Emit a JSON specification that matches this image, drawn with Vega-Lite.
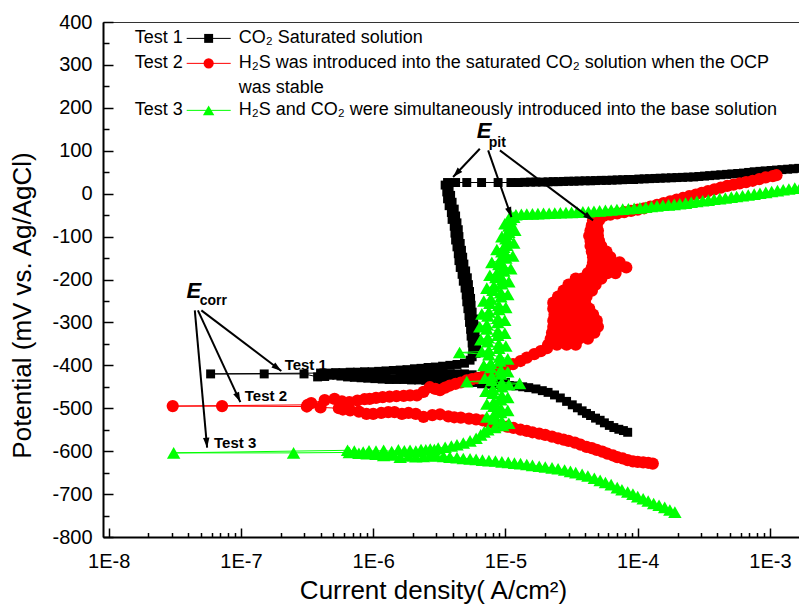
{
"$schema":"https://vega.github.io/schema/vega-lite/v6.json",
"width":697,"height":515,
"autosize":{"type":"none"},
"padding":{"left":103,"top":22,"right":0,"bottom":68},
"background":"#ffffff",
"config":{"view":{"stroke":"#333333","strokeWidth":1},"font":"Liberation Sans","axis":{"grid":false}},
"datasets":{
"t1":[
{"x":8.4e-5,"y":-556},{"x":7.8e-5,"y":-552},{"x":7.2e-5,"y":-549},{"x":6.6e-5,"y":-545},{"x":6.1e-5,"y":-540},{"x":5.6e-5,"y":-534},{"x":5.2e-5,"y":-528},{"x":4.8e-5,"y":-523},{"x":4.4e-5,"y":-517},{"x":4.1e-5,"y":-512},{"x":3.8e-5,"y":-506},{"x":3.5e-5,"y":-499},{"x":3.2e-5,"y":-492},{"x":2.9e-5,"y":-484},{"x":2.6e-5,"y":-476},{"x":2.35e-5,"y":-469},{"x":2.1e-5,"y":-463},{"x":1.9e-5,"y":-459},{"x":1.7e-5,"y":-455},{"x":1.5e-5,"y":-452},{"x":1.35e-5,"y":-450},{"x":1.2e-5,"y":-448},{"x":1.07e-5,"y":-447},
{"x":1.0e-5,"y":-440},{"x":9.5e-6,"y":-446},{"x":9.0e-6,"y":-438},{"x":8.4e-6,"y":-445},{"x":7.9e-6,"y":-436},{"x":7.5e-6,"y":-444},{"x":7.0e-6,"y":-430},{"x":6.6e-6,"y":-443},{"x":6.2e-6,"y":-426},{"x":5.9e-6,"y":-440},{"x":5.6e-6,"y":-422},{"x":5.2e-6,"y":-439},{"x":4.9e-6,"y":-420},{"x":4.6e-6,"y":-438},{"x":4.35e-6,"y":-420},{"x":4.1e-6,"y":-437},{"x":3.85e-6,"y":-420},{"x":3.6e-6,"y":-436},{"x":3.4e-6,"y":-420},{"x":3.2e-6,"y":-436},{"x":3.0e-6,"y":-421},{"x":2.85e-6,"y":-435},{"x":2.65e-6,"y":-421},{"x":2.5e-6,"y":-435},{"x":2.35e-6,"y":-422},{"x":2.2e-6,"y":-434},{"x":2.05e-6,"y":-423},{"x":1.95e-6,"y":-434},{"x":1.8e-6,"y":-424},{"x":1.7e-6,"y":-433},{"x":1.6e-6,"y":-425},{"x":1.5e-6,"y":-433},
{"x":1.32e-6,"y":-433},{"x":1.17e-6,"y":-432},{"x":1.03e-6,"y":-431},{"x":9.1e-7,"y":-430},{"x":8.1e-7,"y":-429},{"x":7.2e-7,"y":-428},{"x":6.4e-7,"y":-427},{"x":5.7e-7,"y":-425},{"x":5.3e-7,"y":-423},{"x":4.7e-7,"y":-423},{"x":4.3e-7,"y":-426},{"x":3.8e-7,"y":-427},{"x":3.0e-7,"y":-420},{"x":1.5e-7,"y":-420},{"x":5.9e-8,"y":-420},
{"x":4.0e-7,"y":-418},{"x":4.6e-7,"y":-418},{"x":5.2e-7,"y":-417},{"x":5.9e-7,"y":-417},{"x":6.7e-7,"y":-416},{"x":7.6e-7,"y":-416},{"x":8.6e-7,"y":-415},{"x":9.8e-7,"y":-415},{"x":1.1e-6,"y":-414},{"x":1.25e-6,"y":-413},{"x":1.42e-6,"y":-412},{"x":1.6e-6,"y":-411},{"x":1.8e-6,"y":-410},{"x":2.05e-6,"y":-408},{"x":2.3e-6,"y":-407},{"x":2.6e-6,"y":-405},{"x":2.95e-6,"y":-404},{"x":3.35e-6,"y":-402},{"x":3.8e-6,"y":-400},{"x":4.3e-6,"y":-398},{"x":4.9e-6,"y":-395},{"x":5.4e-6,"y":-388},
{"x":5.6e-6,"y":-380},{"x":6.0e-6,"y":-372},{"x":5.65e-6,"y":-364},{"x":6.05e-6,"y":-356},{"x":5.6e-6,"y":-348},{"x":6.0e-6,"y":-340},{"x":5.5e-6,"y":-332},{"x":5.9e-6,"y":-324},{"x":5.45e-6,"y":-316},{"x":5.8e-6,"y":-308},{"x":5.35e-6,"y":-300},{"x":5.75e-6,"y":-292},{"x":5.3e-6,"y":-284},{"x":5.6e-6,"y":-276},{"x":5.2e-6,"y":-268},{"x":5.5e-6,"y":-260},{"x":5.1e-6,"y":-252},{"x":5.45e-6,"y":-244},{"x":5.05e-6,"y":-236},{"x":5.35e-6,"y":-228},{"x":4.95e-6,"y":-220},{"x":5.25e-6,"y":-212},{"x":4.8e-6,"y":-204},{"x":5.15e-6,"y":-196},{"x":4.7e-6,"y":-188},{"x":5.0e-6,"y":-180},{"x":4.55e-6,"y":-172},{"x":4.85e-6,"y":-164},{"x":4.45e-6,"y":-156},{"x":4.75e-6,"y":-148},{"x":4.4e-6,"y":-140},{"x":4.65e-6,"y":-132},{"x":4.3e-6,"y":-124},{"x":4.55e-6,"y":-116},{"x":4.2e-6,"y":-108},{"x":4.45e-6,"y":-100},{"x":4.15e-6,"y":-92},{"x":4.4e-6,"y":-84},{"x":4.1e-6,"y":-76},{"x":4.3e-6,"y":-68},{"x":3.95e-6,"y":-60},{"x":4.2e-6,"y":-52},{"x":3.9e-6,"y":-44},{"x":4.1e-6,"y":-36},{"x":3.75e-6,"y":-28},{"x":3.95e-6,"y":-20},{"x":3.65e-6,"y":-12},{"x":3.85e-6,"y":-4},{"x":3.6e-6,"y":4},{"x":3.75e-6,"y":12},{"x":3.5e-6,"y":20},{"x":3.65e-6,"y":26},
{"x":4.2e-6,"y":26},{"x":5.1e-6,"y":26},{"x":6.6e-6,"y":26},{"x":8.8e-6,"y":26},{"x":1.1e-5,"y":26},{"x":1.25e-5,"y":26},{"x":1.4e-5,"y":26.5},{"x":1.55e-5,"y":27},{"x":1.7e-5,"y":27},{"x":1.9e-5,"y":27},{"x":2.1e-5,"y":27.5},{"x":2.3e-5,"y":28},{"x":2.5e-5,"y":28},{"x":2.75e-5,"y":28.5},{"x":3.0e-5,"y":29},{"x":3.3e-5,"y":29},{"x":3.6e-5,"y":29.5},{"x":4.0e-5,"y":30},{"x":4.4e-5,"y":30},{"x":4.8e-5,"y":30.5},{"x":5.3e-5,"y":31},{"x":5.8e-5,"y":31},{"x":6.4e-5,"y":31.5},{"x":7e-5,"y":32},{"x":7.7e-5,"y":32.5},{"x":8.5e-5,"y":33},{"x":9.3e-5,"y":33},{"x":1.02e-4,"y":34},{"x":1.12e-4,"y":34.5},{"x":1.23e-4,"y":35},{"x":1.35e-4,"y":35.5},{"x":1.48e-4,"y":36},{"x":1.63e-4,"y":36.5},{"x":1.8e-4,"y":37},{"x":1.98e-4,"y":37.5},{"x":2.18e-4,"y":38},{"x":2.4e-4,"y":38.5},{"x":2.65e-4,"y":39},{"x":2.9e-4,"y":40},{"x":3.2e-4,"y":41},{"x":3.5e-4,"y":42},{"x":3.85e-4,"y":43},{"x":4.25e-4,"y":44},{"x":4.7e-4,"y":45},{"x":5.15e-4,"y":46},{"x":5.7e-4,"y":47},{"x":6.3e-4,"y":48},{"x":6.9e-4,"y":49.5},{"x":7.6e-4,"y":51},{"x":8.4e-4,"y":52},{"x":9.2e-4,"y":53},{"x":1.02e-3,"y":54},{"x":1.12e-3,"y":55},{"x":1.23e-3,"y":56},{"x":1.36e-3,"y":57},{"x":1.5e-3,"y":58},{"x":1.65e-3,"y":59},{"x":1.8e-3,"y":60}
],
"t2":[
{"x":1.3e-4,"y":-629},{"x":1.2e-4,"y":-627},{"x":1.1e-4,"y":-626},{"x":1.0e-4,"y":-625},{"x":9.2e-5,"y":-624},{"x":8.4e-5,"y":-621},{"x":7.7e-5,"y":-617},{"x":7.0e-5,"y":-614},{"x":6.5e-5,"y":-610},{"x":5.9e-5,"y":-606},{"x":5.4e-5,"y":-601},{"x":4.9e-5,"y":-597},{"x":4.5e-5,"y":-593},{"x":4.1e-5,"y":-590},{"x":3.7e-5,"y":-585},{"x":3.35e-5,"y":-580},{"x":3.0e-5,"y":-576},{"x":2.75e-5,"y":-573},{"x":2.5e-5,"y":-570},{"x":2.25e-5,"y":-566},{"x":2.0e-5,"y":-562},{"x":1.8e-5,"y":-559},{"x":1.6e-5,"y":-556},{"x":1.45e-5,"y":-553},{"x":1.3e-5,"y":-550},{"x":1.15e-5,"y":-546},{"x":1.03e-5,"y":-543},{"x":9.1e-6,"y":-540},{"x":8.2e-6,"y":-536},{"x":7.4e-6,"y":-532},{"x":6.7e-6,"y":-528},{"x":6.0e-6,"y":-526},{"x":5.3e-6,"y":-524},{"x":4.6e-6,"y":-522},{"x":4.1e-6,"y":-521},{"x":3.7e-6,"y":-519},{"x":3.2e-6,"y":-514},{"x":2.8e-6,"y":-516},{"x":2.4e-6,"y":-520},{"x":2.1e-6,"y":-513},{"x":1.85e-6,"y":-511},{"x":1.65e-6,"y":-513},{"x":1.45e-6,"y":-509},{"x":1.3e-6,"y":-509},{"x":1.15e-6,"y":-511},{"x":1.0e-6,"y":-513},{"x":8.9e-7,"y":-513},{"x":7.8e-7,"y":-508},{"x":6.7e-7,"y":-505},{"x":5.9e-7,"y":-503},{"x":5.5e-7,"y":-500},{"x":4.0e-7,"y":-498},{"x":3.15e-7,"y":-496},{"x":7.2e-8,"y":-495},{"x":3.05e-8,"y":-495},
{"x":3.2e-7,"y":-492},{"x":3.4e-7,"y":-488},{"x":4.3e-7,"y":-481},{"x":5.1e-7,"y":-478},{"x":5.8e-7,"y":-484},{"x":6.6e-7,"y":-486},{"x":7.6e-7,"y":-482},{"x":8.6e-7,"y":-479},{"x":9.4e-7,"y":-478},{"x":1.05e-6,"y":-476},{"x":1.18e-6,"y":-474},{"x":1.33e-6,"y":-473},{"x":1.5e-6,"y":-472},{"x":1.7e-6,"y":-471},{"x":1.9e-6,"y":-470},{"x":2.14e-6,"y":-470},{"x":2.4e-6,"y":-462},{"x":2.68e-6,"y":-451},{"x":2.95e-6,"y":-455},{"x":3.2e-6,"y":-458},{"x":3.5e-6,"y":-452},{"x":3.8e-6,"y":-447},{"x":4.2e-6,"y":-443},{"x":4.6e-6,"y":-440},{"x":5.1e-6,"y":-435},{"x":5.6e-6,"y":-432},{"x":6.1e-6,"y":-430},{"x":6.8e-6,"y":-426},{"x":7.6e-6,"y":-421},{"x":8.4e-6,"y":-416},{"x":9.2e-6,"y":-412},{"x":1.0e-5,"y":-405},{"x":1.14e-5,"y":-397},{"x":1.3e-5,"y":-390},{"x":1.45e-5,"y":-382},{"x":1.65e-5,"y":-374},{"x":1.85e-5,"y":-367},{"x":2.06e-5,"y":-360},
{"x":2.1e-5,"y":-352},{"x":2.45e-5,"y":-352},{"x":2.9e-5,"y":-352},{"x":3.4e-5,"y":-352},
{"x":4.2e-5,"y":-338},{"x":3.6e-5,"y":-338},{"x":3.05e-5,"y":-338},{"x":2.6e-5,"y":-338},{"x":2.2e-5,"y":-338},
{"x":2.25e-5,"y":-324},{"x":2.65e-5,"y":-324},{"x":3.1e-5,"y":-324},{"x":3.65e-5,"y":-324},{"x":4.3e-5,"y":-324},{"x":4.7e-5,"y":-324},
{"x":5.0e-5,"y":-310},{"x":4.3e-5,"y":-310},{"x":3.65e-5,"y":-310},{"x":3.1e-5,"y":-310},{"x":2.65e-5,"y":-310},{"x":2.3e-5,"y":-310},
{"x":2.3e-5,"y":-296},{"x":2.7e-5,"y":-296},{"x":3.2e-5,"y":-296},{"x":3.8e-5,"y":-296},{"x":4.5e-5,"y":-296},{"x":4.9e-5,"y":-296},
{"x":4.6e-5,"y":-282},{"x":3.9e-5,"y":-282},{"x":3.3e-5,"y":-282},{"x":2.8e-5,"y":-282},{"x":2.35e-5,"y":-282},
{"x":2.3e-5,"y":-268},{"x":2.7e-5,"y":-268},{"x":3.2e-5,"y":-268},{"x":3.8e-5,"y":-268},{"x":4.3e-5,"y":-268},
{"x":4.0e-5,"y":-254},{"x":3.4e-5,"y":-254},{"x":2.9e-5,"y":-254},{"x":2.5e-5,"y":-254},{"x":2.3e-5,"y":-254},
{"x":2.5e-5,"y":-240},{"x":2.95e-5,"y":-240},{"x":3.5e-5,"y":-240},{"x":4.1e-5,"y":-240},
{"x":4.5e-5,"y":-226},{"x":3.85e-5,"y":-226},{"x":3.25e-5,"y":-226},{"x":2.75e-5,"y":-226},
{"x":3.0e-5,"y":-212},{"x":3.5e-5,"y":-212},{"x":4.1e-5,"y":-212},{"x":4.8e-5,"y":-212},
{"x":5.3e-5,"y":-198},{"x":4.5e-5,"y":-198},{"x":3.8e-5,"y":-198},{"x":3.4e-5,"y":-198},
{"x":4.2e-5,"y":-185},{"x":5.0e-5,"y":-185},{"x":5.9e-5,"y":-185},{"x":6.8e-5,"y":-185},
{"x":8.2e-5,"y":-172},{"x":7.0e-5,"y":-172},{"x":5.9e-5,"y":-172},{"x":5.0e-5,"y":-172},{"x":4.5e-5,"y":-172},
{"x":4.6e-5,"y":-160},{"x":5.4e-5,"y":-160},{"x":6.3e-5,"y":-160},{"x":7.3e-5,"y":-160},
{"x":6.2e-5,"y":-148},{"x":5.3e-5,"y":-148},{"x":4.6e-5,"y":-148},
{"x":4.5e-5,"y":-135},{"x":5.2e-5,"y":-135},{"x":5.8e-5,"y":-135},
{"x":5.3e-5,"y":-122},{"x":4.4e-5,"y":-122},{"x":4.4e-5,"y":-110},{"x":5.1e-5,"y":-110},{"x":5.0e-5,"y":-98},{"x":4.3e-5,"y":-98},{"x":4.4e-5,"y":-86},{"x":5.0e-5,"y":-86},{"x":4.9e-5,"y":-74},{"x":4.5e-5,"y":-74},{"x":4.6e-5,"y":-62},{"x":5.1e-5,"y":-62},{"x":5.2e-5,"y":-54},
{"x":5.5e-5,"y":-52},{"x":6.2e-5,"y":-49},{"x":7e-5,"y":-46},{"x":7.9e-5,"y":-43},{"x":8.9e-5,"y":-40},{"x":1.0e-4,"y":-37},{"x":1.12e-4,"y":-34},{"x":1.25e-4,"y":-30},{"x":1.4e-4,"y":-26},{"x":1.57e-4,"y":-22},{"x":1.76e-4,"y":-18},{"x":1.97e-4,"y":-14},{"x":2.2e-4,"y":-10},{"x":2.45e-4,"y":-6},{"x":2.75e-4,"y":-2},{"x":3.05e-4,"y":2},{"x":3.4e-4,"y":6},{"x":3.8e-4,"y":10},{"x":4.25e-4,"y":14},{"x":4.75e-4,"y":18},{"x":5.3e-4,"y":21},{"x":5.9e-4,"y":24},{"x":6.6e-4,"y":27},{"x":7.4e-4,"y":30},{"x":8.3e-4,"y":34},{"x":9.3e-4,"y":38},{"x":1.05e-3,"y":41},{"x":1.12e-3,"y":43}
],
"t3":[
{"x":1.91e-4,"y":-742},{"x":1.75e-4,"y":-737},{"x":1.6e-4,"y":-731},{"x":1.45e-4,"y":-726},{"x":1.32e-4,"y":-722},{"x":1.2e-4,"y":-716},{"x":1.1e-4,"y":-711},{"x":1.0e-4,"y":-706},{"x":9.2e-5,"y":-700},{"x":8.4e-5,"y":-695},{"x":7.6e-5,"y":-690},{"x":7.0e-5,"y":-685},{"x":6.3e-5,"y":-678},{"x":5.7e-5,"y":-673},{"x":5.2e-5,"y":-668},{"x":4.7e-5,"y":-663},{"x":4.2e-5,"y":-658},{"x":3.8e-5,"y":-654},{"x":3.4e-5,"y":-650},{"x":3.1e-5,"y":-647},{"x":2.8e-5,"y":-644},{"x":2.5e-5,"y":-641},{"x":2.25e-5,"y":-639},{"x":2.0e-5,"y":-637},{"x":1.8e-5,"y":-635},{"x":1.6e-5,"y":-633},{"x":1.45e-5,"y":-631},{"x":1.3e-5,"y":-629},{"x":1.17e-5,"y":-628},{"x":1.05e-5,"y":-626},{"x":9.4e-6,"y":-625},{"x":8.4e-6,"y":-623},{"x":7.5e-6,"y":-622},{"x":6.7e-6,"y":-621},{"x":6.0e-6,"y":-619},{"x":5.4e-6,"y":-618},{"x":4.8e-6,"y":-617},{"x":4.3e-6,"y":-615},{"x":3.8e-6,"y":-614},{"x":3.4e-6,"y":-612},{"x":3.0e-6,"y":-611},{"x":2.7e-6,"y":-610},{"x":2.4e-6,"y":-612},{"x":2.1e-6,"y":-613},{"x":1.85e-6,"y":-611},{"x":1.6e-6,"y":-614},{"x":1.4e-6,"y":-609},{"x":1.2e-6,"y":-610},{"x":1.05e-6,"y":-607},{"x":9e-7,"y":-606},{"x":7.8e-7,"y":-605},{"x":6.6e-7,"y":-603},{"x":2.5e-7,"y":-604},{"x":3.1e-8,"y":-604},
{"x":6.4e-7,"y":-598},{"x":7.2e-7,"y":-600},{"x":8.4e-7,"y":-602},{"x":9.3e-7,"y":-599},{"x":1.05e-6,"y":-600},{"x":1.2e-6,"y":-598},{"x":1.38e-6,"y":-601},{"x":1.55e-6,"y":-597},{"x":1.72e-6,"y":-599},{"x":1.9e-6,"y":-598},{"x":2.1e-6,"y":-600},{"x":2.3e-6,"y":-596},{"x":2.5e-6,"y":-597},{"x":2.7e-6,"y":-595},{"x":2.9e-6,"y":-596},{"x":3.1e-6,"y":-593},{"x":3.5e-6,"y":-591},{"x":3.9e-6,"y":-588},{"x":4.3e-6,"y":-585},{"x":4.8e-6,"y":-581},{"x":5.4e-6,"y":-576},{"x":6.0e-6,"y":-570},{"x":6.5e-6,"y":-562},{"x":6.9e-6,"y":-555},
{"x":7.36e-6,"y":-550},{"x":8.31e-6,"y":-545},{"x":9.55e-6,"y":-540},{"x":1.061e-5,"y":-535},{"x":9.39e-6,"y":-530},{"x":8.17e-6,"y":-525},{"x":7.23e-6,"y":-520},{"x":8.17e-6,"y":-515},{"x":9.23e-6,"y":-510},{"x":1.042e-5,"y":-505},{"x":9.23e-6,"y":-500},{"x":8.17e-6,"y":-495},{"x":7.23e-6,"y":-490},{"x":8.17e-6,"y":-485},{"x":9.23e-6,"y":-480},{"x":1.042e-5,"y":-475},{"x":9.39e-6,"y":-470},{"x":8.03e-6,"y":-465},{"x":7.11e-6,"y":-460},{"x":8.03e-6,"y":-455},{"x":9.39e-6,"y":-450},{"x":1.061e-5,"y":-445},{"x":1.28e-5,"y":-442},{"x":9.39e-6,"y":-440},{"x":5.1e-6,"y":-438},{"x":7.89e-6,"y":-435},{"x":6.98e-6,"y":-430},{"x":7.89e-6,"y":-425},{"x":9.23e-6,"y":-420},{"x":1.042e-5,"y":-415},{"x":9.23e-6,"y":-410},{"x":7.75e-6,"y":-405},{"x":6.86e-6,"y":-400},{"x":7.75e-6,"y":-395},{"x":9.07e-6,"y":-390},{"x":1.042e-5,"y":-385},{"x":9.07e-6,"y":-380},{"x":7.49e-6,"y":-375},{"x":4.5e-6,"y":-370},{"x":6.63e-6,"y":-368},{"x":7.49e-6,"y":-365},{"x":8.91e-6,"y":-360},{"x":1.007e-5,"y":-355},{"x":8.91e-6,"y":-350},{"x":7.36e-6,"y":-345},{"x":6.51e-6,"y":-340},{"x":7.36e-6,"y":-335},{"x":8.76e-6,"y":-330},{"x":9.89e-6,"y":-325},{"x":8.76e-6,"y":-320},{"x":7.23e-6,"y":-315},{"x":6.4e-6,"y":-310},{"x":7.23e-6,"y":-305},{"x":8.76e-6,"y":-300},{"x":9.89e-6,"y":-295},{"x":8.76e-6,"y":-290},{"x":7.36e-6,"y":-285},{"x":6.63e-6,"y":-280},{"x":7.49e-6,"y":-275},{"x":8.91e-6,"y":-270},{"x":1.007e-5,"y":-265},{"x":8.91e-6,"y":-260},{"x":7.62e-6,"y":-255},{"x":6.86e-6,"y":-250},{"x":7.75e-6,"y":-245},{"x":9.23e-6,"y":-240},{"x":1.042e-5,"y":-235},{"x":9.23e-6,"y":-230},{"x":8.03e-6,"y":-225},{"x":7.23e-6,"y":-220},{"x":8.17e-6,"y":-215},{"x":9.39e-6,"y":-210},{"x":1.061e-5,"y":-205},{"x":9.55e-6,"y":-200},{"x":8.46e-6,"y":-195},{"x":7.62e-6,"y":-190},{"x":8.61e-6,"y":-185},{"x":9.72e-6,"y":-180},{"x":1.098e-5,"y":-175},{"x":9.72e-6,"y":-170},{"x":8.91e-6,"y":-165},{"x":7.89e-6,"y":-160},{"x":9.07e-6,"y":-155},{"x":1.007e-5,"y":-150},{"x":1.137e-5,"y":-145},{"x":1.007e-5,"y":-140},{"x":9.39e-6,"y":-135},{"x":8.61e-6,"y":-130},{"x":9.72e-6,"y":-125},{"x":1.024e-5,"y":-120},{"x":1.157e-5,"y":-115},{"x":1.042e-5,"y":-110},{"x":1.007e-5,"y":-105},{"x":9.39e-6,"y":-100},{"x":1.024e-5,"y":-95},{"x":1.061e-5,"y":-90},{"x":1.178e-5,"y":-85},{"x":1.079e-5,"y":-80},{"x":1.061e-5,"y":-75},{"x":9.89e-6,"y":-70},{"x":1.079e-5,"y":-65},{"x":1.098e-5,"y":-60},{"x":1.157e-5,"y":-55},{"x":1.098e-5,"y":-50},
{"x":1.2e-5,"y":-49},{"x":1.32e-5,"y":-48},{"x":1.45e-5,"y":-47.5},{"x":1.6e-5,"y":-47},{"x":1.76e-5,"y":-46.5},{"x":1.94e-5,"y":-46},{"x":2.14e-5,"y":-45.5},{"x":2.36e-5,"y":-45},{"x":2.6e-5,"y":-44.5},{"x":2.87e-5,"y":-44},{"x":3.16e-5,"y":-43.5},{"x":3.48e-5,"y":-43},{"x":3.85e-5,"y":-42.5},{"x":4.24e-5,"y":-42},{"x":4.67e-5,"y":-41},{"x":5.15e-5,"y":-40},{"x":5.7e-5,"y":-39},{"x":6.3e-5,"y":-38},{"x":6.96e-5,"y":-37},{"x":7.7e-5,"y":-36},{"x":8.5e-5,"y":-35},{"x":9.4e-5,"y":-34},{"x":1.04e-4,"y":-33},{"x":1.15e-4,"y":-31.5},{"x":1.27e-4,"y":-30},{"x":1.4e-4,"y":-28.5},{"x":1.55e-4,"y":-27},{"x":1.71e-4,"y":-26},{"x":1.89e-4,"y":-25},{"x":2.08e-4,"y":-23.5},{"x":2.3e-4,"y":-22},{"x":2.54e-4,"y":-20},{"x":2.8e-4,"y":-18},{"x":3.1e-4,"y":-16.5},{"x":3.42e-4,"y":-15},{"x":3.78e-4,"y":-13},{"x":4.17e-4,"y":-11.5},{"x":4.6e-4,"y":-10},{"x":5.1e-4,"y":-8},{"x":5.6e-4,"y":-6.5},{"x":6.2e-4,"y":-5},{"x":6.85e-4,"y":-3},{"x":7.6e-4,"y":-1},{"x":8.4e-4,"y":1},{"x":9.3e-4,"y":3},{"x":1.03e-3,"y":5},{"x":1.14e-3,"y":7},{"x":1.26e-3,"y":9},{"x":1.39e-3,"y":11},{"x":1.54e-3,"y":13},{"x":1.7e-3,"y":15},{"x":1.85e-3,"y":17}
],
"arrows":[
{"x1":6.40e-6,"y1":104.8,"x2":4.02e-6,"y2":38.7},
{"x1":7.40e-6,"y1":100.9,"x2":1.11e-5,"y2":-54.5},
{"x1":9.08e-6,"y1":100.9,"x2":4.60e-5,"y2":-62.2},
{"x1":5.02e-8,"y1":-271.9,"x2":2.02e-7,"y2":-413.3},
{"x1":4.73e-8,"y1":-271.9,"x2":9.9e-8,"y2":-485.6},
{"x1":4.48e-8,"y1":-271.9,"x2":5.55e-8,"y2":-591.8}
],
"elab":[{"t":"E","x":6.08e-6,"y":128.8},{"t":"E","x":3.87e-8,"y":-244}],
"sub":[{"t":"pit","x":7.48e-6,"y":108.6},{"t":"corr","x":4.88e-8,"y":-260}],
"tlab":[{"t":"Test 1","x":2.14e-7,"y":-410},{"t":"Test 2","x":1.07e-7,"y":-483},{"t":"Test 3","x":6.26e-8,"y":-592}],
"leg":[{"k":"Test 1","y":361.8},{"k":"Test 2","y":303.6},{"k":"Test 3","y":194.1}],
"desc":[{"t":"CO₂  Saturated solution","y":361.8},{"t":"H₂S was introduced into the saturated CO₂ solution when the OCP","y":303.6},{"t":"was stable","y":245.3},{"t":"H₂S and CO₂ were simultaneously introduced into the base solution","y":194.1}]
},
"layer":[
{"layer":[
 {"data":{"name":"t1"},
  "mark":{"type":"line","color":"#000000","strokeWidth":1,"point":{"shape":"square","filled":true,"size":80,"color":"#000000","opacity":1}},
  "encoding":{
   "x":{"field":"x","type":"quantitative","scale":{"type":"log","domain":[9.06e-9,1.687e-3],"nice":false},
     "axis":{"values":[1e-8,1e-7,1e-6,1e-5,1e-4,1e-3],"labelExpr":"'1E' + round(log(datum.value)/LN10)","tickSize":-9,"tickWidth":1.5,"tickColor":"#000000","domainColor":"#000000","domainWidth":2,"labelFont":"Liberation Sans","labelFontSize":20,"labelColor":"#000000","labelPadding":23,"labelFlush":false,"labelOverlap":false,"grid":false,
       "title":"Current density(  A/cm²)","titleFont":"Liberation Sans","titleFontSize":26,"titleFontWeight":"normal","titleColor":"#000000","titleX":330,"titleY":53,"titleAlign":"center","titleBaseline":"middle"}},
   "y":{"field":"y","type":"quantitative","scale":{"domain":[-800,400],"nice":false,"zero":false},
     "axis":{"values":[-800,-700,-600,-500,-400,-300,-200,-100,0,100,200,300,400],"labelExpr":"'' + datum.value","tickSize":-10,"tickWidth":1.5,"tickColor":"#000000","domainColor":"#000000","domainWidth":2,"labelFont":"Liberation Sans","labelFontSize":20,"labelColor":"#000000","labelPadding":21,"labelFlush":false,"labelOverlap":false,"grid":false,
       "title":"Potential (mV vs. Ag/AgCl)","titleFont":"Liberation Sans","titleFontSize":26,"titleFontWeight":"normal","titleColor":"#000000","titleX":-81,"titleY":283,"titleAlign":"center","titleBaseline":"middle","titleAngle":-90}},
   "order":{"value":null}}},
 {"data":{"name":"t2"},
  "mark":{"type":"line","color":"#ff0000","strokeWidth":1,"point":{"shape":"circle","filled":true,"size":150,"color":"#ff0000","opacity":1}},
  "encoding":{"x":{"field":"x","type":"quantitative"},"y":{"field":"y","type":"quantitative"},"order":{"value":null}}},
 {"data":{"name":"t3"},
  "mark":{"type":"line","color":"#00ff00","strokeWidth":1,"point":{"shape":"triangle-up","filled":true,"size":180,"color":"#00ff00","opacity":1}},
  "encoding":{"x":{"field":"x","type":"quantitative"},"y":{"field":"y","type":"quantitative"},"order":{"value":null}}},
 {"data":{"name":"arrows"},
  "mark":{"type":"rule","color":"#000000","strokeWidth":2},
  "encoding":{"x":{"field":"x1","type":"quantitative"},"y":{"field":"y1","type":"quantitative"},"x2":{"field":"x2"},"y2":{"field":"y2"}}},
 {"data":{"name":"arrows"},
  "transform":[{"calculate":"atan2((log(datum.x2)-log(datum.x1))/LN10*132.26,(datum.y2-datum.y1)*0.42917)*180/PI","as":"ang"}],
  "mark":{"type":"point","shape":"M0,0L-0.32,1L0.32,1Z","filled":true,"color":"#000000","opacity":1,"size":400},
  "encoding":{"x":{"field":"x2","type":"quantitative"},"y":{"field":"y2","type":"quantitative"},"angle":{"field":"ang","type":"quantitative","scale":null}}},
 {"data":{"name":"elab"},
  "mark":{"type":"text","align":"left","baseline":"alphabetic","font":"Liberation Sans","fontSize":22,"fontWeight":"bold","fontStyle":"italic","color":"#000000"},
  "encoding":{"x":{"field":"x","type":"quantitative"},"y":{"field":"y","type":"quantitative"},"text":{"field":"t"}}},
 {"data":{"name":"sub"},
  "mark":{"type":"text","align":"left","baseline":"alphabetic","font":"Liberation Sans","fontSize":14,"fontWeight":"bold","color":"#000000"},
  "encoding":{"x":{"field":"x","type":"quantitative"},"y":{"field":"y","type":"quantitative"},"text":{"field":"t"}}},
 {"data":{"name":"tlab"},
  "mark":{"type":"text","align":"left","baseline":"alphabetic","font":"Liberation Sans","fontSize":15,"fontWeight":"bold","color":"#000000"},
  "encoding":{"x":{"field":"x","type":"quantitative"},"y":{"field":"y","type":"quantitative"},"text":{"field":"t"}}},
 {"data":{"name":"leg"},
  "mark":{"type":"rule","strokeWidth":1},
  "encoding":{"x":{"datum":3.89e-8,"type":"quantitative"},"x2":{"datum":8.37e-8},"y":{"field":"y","type":"quantitative"},
   "color":{"field":"k","type":"nominal","scale":{"domain":["Test 1","Test 2","Test 3"],"range":["#000000","#ff0000","#00ff00"]},"legend":null}}},
 {"data":{"name":"leg"},
  "mark":{"type":"point","filled":true,"opacity":1},
  "encoding":{"x":{"datum":5.7e-8,"type":"quantitative"},"y":{"field":"y","type":"quantitative"},
   "color":{"field":"k","type":"nominal","legend":null},
   "shape":{"field":"k","type":"nominal","scale":{"domain":["Test 1","Test 2","Test 3"],"range":["square","circle","triangle-up"]},"legend":null},
   "size":{"field":"k","type":"ordinal","scale":{"domain":["Test 1","Test 2","Test 3"],"range":[80,130,180]},"legend":null}}},
 {"data":{"name":"leg"},
  "mark":{"type":"text","align":"left","baseline":"middle","font":"Liberation Sans","fontSize":18,"color":"#000000"},
  "encoding":{"x":{"datum":1.575e-8,"type":"quantitative"},"y":{"field":"y","type":"quantitative"},"text":{"field":"k"}}},
 {"data":{"name":"desc"},
  "mark":{"type":"text","align":"left","baseline":"middle","font":"Liberation Sans","fontSize":18,"color":"#000000"},
  "encoding":{"x":{"datum":9.61e-8,"type":"quantitative"},"y":{"field":"y","type":"quantitative"},"text":{"field":"t"}}}
]},
{"data":{"values":[{}]},
 "mark":{"type":"point","opacity":0},
 "encoding":{
  "x":{"datum":1e-6,"type":"quantitative","axis":{"orient":"bottom","values":[2e-8,3e-8,4e-8,5e-8,6e-8,7e-8,8e-8,9e-8,2e-7,3e-7,4e-7,5e-7,6e-7,7e-7,8e-7,9e-7,2e-6,3e-6,4e-6,5e-6,6e-6,7e-6,8e-6,9e-6,2e-5,3e-5,4e-5,5e-5,6e-5,7e-5,8e-5,9e-5,2e-4,3e-4,4e-4,5e-4,6e-4,7e-4,8e-4,9e-4],"labels":false,"tickSize":-4.5,"tickWidth":1.5,"tickColor":"#000000","domain":false,"title":null,"grid":false}},
  "y":{"datum":0,"type":"quantitative","axis":{"orient":"left","values":[-750,-650,-550,-450,-350,-250,-150,-50,50,150,250,350],"labels":false,"tickSize":-6,"tickWidth":1.5,"tickColor":"#000000","domain":false,"title":null,"grid":false}}}}
],
"resolve":{"axis":{"x":"independent","y":"independent"}}
}
